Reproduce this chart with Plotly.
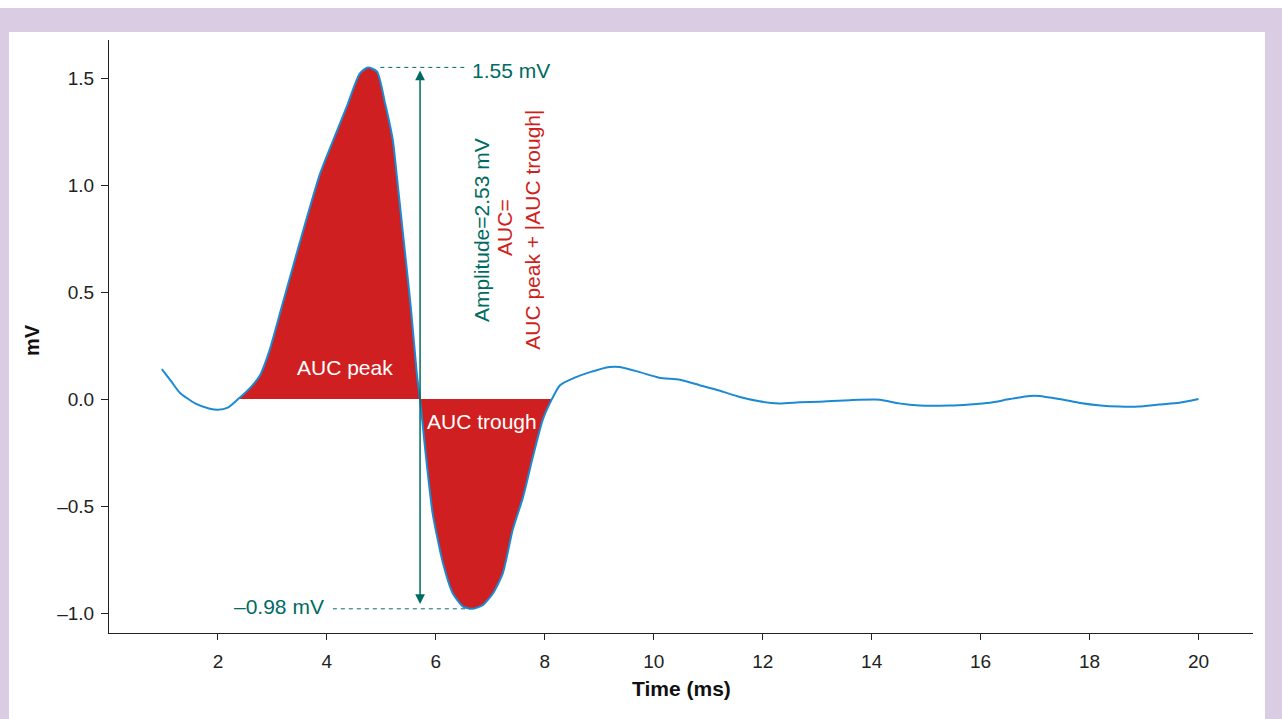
import plotly.graph_objects as go

# ---- data ----
time_ms = [0.97, 1.15, 1.30, 1.58, 1.85, 2.00, 2.18, 2.37, 2.60, 2.77, 2.95, 3.17, 3.50, 3.87,
           4.10, 4.37, 4.60, 4.75, 4.92, 5.07, 5.21, 5.28, 5.41, 5.54, 5.65, 5.71,
           5.80, 5.94, 6.13, 6.31, 6.50, 6.68, 6.86, 7.05, 7.23, 7.41, 7.60, 7.78, 7.96, 8.13,
           8.28, 8.55, 8.83, 9.19, 9.38, 9.74, 10.10, 10.48, 10.84, 11.20, 11.58, 11.94,
           12.30, 12.68, 13.05, 13.60, 14.15, 14.50, 14.88, 15.43, 15.80, 16.17, 16.53,
           16.90, 17.08, 17.45, 17.80, 18.20, 18.55, 18.90, 19.28, 19.65, 20.00]
signal_mv = [0.14, 0.08, 0.03, -0.02, -0.045, -0.05, -0.04, 0.00, 0.055, 0.11, 0.23, 0.43, 0.73, 1.05,
             1.20, 1.37, 1.52, 1.55, 1.53, 1.38, 1.21, 1.05, 0.74, 0.43, 0.12, 0.00,
             -0.224, -0.533, -0.766, -0.907, -0.970, -0.980, -0.963, -0.907, -0.813, -0.612, -0.458,
             -0.271, -0.098, 0.00,
             0.065, 0.10, 0.126, 0.15, 0.15, 0.126, 0.10, 0.09, 0.065, 0.04, 0.01, -0.01,
             -0.02, -0.015, -0.012, -0.005, -0.003, -0.02, -0.03, -0.03, -0.025, -0.017, 0.00,
             0.015, 0.015, 0.00, -0.017, -0.03, -0.035, -0.035, -0.025, -0.017, 0.00]

auc_start_ms = 2.37
auc_end_ms = 8.13
zero_cross_ms = 5.71
peak_mv = 1.55
trough_mv = -0.98

x_ticks = [2, 4, 6, 8, 10, 12, 14, 16, 18, 20]
y_ticks = [-1.0, -0.5, 0.0, 0.5, 1.0, 1.5]
y_tick_text = ["\u20131.0", "\u20130.5", "0.0", "0.5", "1.0", "1.5"]

# ---- styling ----
FONT = "Liberation Sans, Arial, Helvetica, sans-serif"
RED = "#d01f20"
BLUE = "#1b8ad3"
TEAL = "#006b62"
LAV = "#d9cce3"

W, H = 1282, 719
ML, MR, MT, MB = 109, 29, 40, 86
PW, PH = W - ML - MR, H - MT - MB


def px_x(p):
    return (p - ML) / PW


def px_y(p):
    return (H - MB - p) / PH


fill_x = [t for t in time_ms if auc_start_ms <= t <= auc_end_ms]
fill_y = [v for t, v in zip(time_ms, signal_mv) if auc_start_ms <= t <= auc_end_ms]

fig = go.Figure()
fig.add_trace(go.Scatter(x=fill_x, y=fill_y, mode="lines", fill="tozeroy",
                         fillcolor=RED, line=dict(color=RED, width=0, shape="spline", smoothing=0.6),
                         hoverinfo="skip", showlegend=False))
fig.add_trace(go.Scatter(x=time_ms, y=signal_mv, mode="lines",
                         line=dict(color=BLUE, width=2, shape="spline", smoothing=0.6),
                         showlegend=False))

# dashed reference lines
fig.add_shape(type="line", x0=4.98, x1=6.55, y0=peak_mv, y1=peak_mv,
              line=dict(color=TEAL, width=1, dash="4px,4px"))
fig.add_shape(type="line", x0=4.11, x1=6.62, y0=trough_mv, y1=trough_mv,
              line=dict(color=TEAL, width=1, dash="4px,4px"))

# double headed arrow
fig.add_annotation(x=zero_cross_ms, y=peak_mv - 0.015, ax=zero_cross_ms, ay=trough_mv + 0.015,
                   xref="x", yref="y", axref="x", ayref="y", text="", showarrow=True,
                   arrowside="end+start", arrowhead=2, startarrowhead=2,
                   arrowsize=1.3, startarrowsize=1.3, arrowwidth=1.5, arrowcolor=TEAL)

ann_font = dict(family=FONT, size=21)
fig.add_annotation(x=6.62, y=1.535, text="1.55 mV", showarrow=False, xanchor="left",
                   yanchor="middle", font=dict(ann_font, color=TEAL))
fig.add_annotation(x=3.98, y=-0.967, text="\u20130.98 mV", showarrow=False, xanchor="right",
                   yanchor="middle", font=dict(ann_font, color=TEAL))
fig.add_annotation(x=6.83, y=0.79, text="Amplitude=2.53 mV", showarrow=False, textangle=-90,
                   font=dict(ann_font, color=TEAL))
fig.add_annotation(x=7.27, y=0.80, text="AUC=", showarrow=False, textangle=-90,
                   font=dict(ann_font, color=RED))
fig.add_annotation(x=7.76, y=0.79, text="AUC peak + |AUC trough|", showarrow=False, textangle=-90,
                   font=dict(ann_font, color=RED))
fig.add_annotation(x=4.33, y=0.15, text="AUC peak", showarrow=False,
                   font=dict(ann_font, color="white"))
fig.add_annotation(x=6.84, y=-0.107, text="AUC trough", showarrow=False,
                   font=dict(ann_font, color="white"))

# axis titles
fig.add_annotation(xref="paper", yref="paper", x=px_x(32), y=px_y(340), text="<b>mV</b>",
                   textangle=-90, showarrow=False, xanchor="center", yanchor="middle",
                   font=dict(family=FONT, size=20, color="#111"))
fig.add_annotation(xref="paper", yref="paper", x=px_x(681), y=px_y(688), text="<b>Time (ms)</b>",
                   showarrow=False, xanchor="center", yanchor="middle",
                   font=dict(family=FONT, size=21, color="#111"))

# lavender frame
for (x0, y0, x1, y1) in [(0, 8, W, 32), (0, 8, 9, H), (1265, 8, W, H)]:
    fig.add_shape(type="rect", xref="paper", yref="paper", x0=px_x(x0), x1=px_x(x1),
                  y0=px_y(y1), y1=px_y(y0), fillcolor=LAV, line=dict(width=0), layer="below")

fig.update_xaxes(range=[0, 21], tickvals=x_ticks, ticks="outside", ticklen=6, tickcolor="#222",
                 showline=True, linecolor="#222", linewidth=1, showgrid=False, zeroline=False,
                 ticklabelstandoff=5,
                 tickfont=dict(family=FONT, size=19, color="#222"))
fig.update_yaxes(range=[-1.093, 1.678], tickvals=y_ticks, ticktext=y_tick_text, ticks="outside",
                 ticklen=7, tickcolor="#222", showline=True, linecolor="#222", linewidth=1,
                 showgrid=False, zeroline=False, ticklabelstandoff=3,
                 tickfont=dict(family=FONT, size=19, color="#222"))
fig.update_layout(width=W, height=H, margin=dict(l=ML, r=MR, t=MT, b=MB),
                  paper_bgcolor="white", plot_bgcolor="white", showlegend=False,
                  font=dict(family=FONT))

fig.write_html("out.html", config={"displayModeBar": False},
               post_script="document.body.style.margin='0';")
